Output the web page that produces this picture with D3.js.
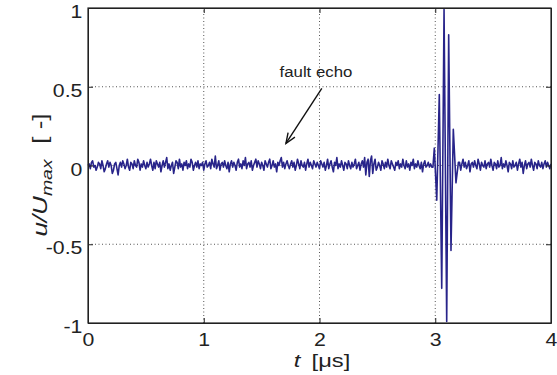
<!DOCTYPE html>
<html>
<head>
<meta charset="utf-8">
<script src="https://d3js.org/d3.v7.min.js"></script>
<style>
  body { margin: 0; background: #fff; }
  svg text { font-family: "Liberation Sans", Arial, sans-serif; fill: #222; }
</style>
</head>
<body>
<div id="chart"></div>
<script>
// Chart size
const width = 557;
const height = 375;
const margin = { top: 8, right: 6, bottom: 52, left: 88 };

// Axis ticks
const xTicks = [0, 1, 2, 3, 4];
const yTicks = [-1, -0.5, 0, 0.5, 1];
const xGrid = [1, 2, 3];
const yGrid = [-0.5, 0, 0.5];

// Background noise before the echo, sampled every 0.01 us from t = 0 (values x0.01)
const noiseStep = 0.01;
const noiseBefore = [
    0, 1, -2, 2, 3, -1, 0, -3, -1, 2, 1, -2, 3, 0, -4, -2, 1, 3, -1, 2, 0, -5, -3, 1, 2,
    -2, -6, 0, 2, -1, 3, 1, -2, 0, 4, -1, -3, 2, 1, -2, 3, 0, -1, 4, 2, -3, 1, -1, 3, 0,
    -2, 2, -1, 1, 4, 0, -3, 2, -2, 3, 1, -1, 2, -4, 0, 3, -1, 2, 5, -2, 1, -3, 0, 2, -5,
    -1, 3, 2, -2, 4, -1, 1, -3, 2, 0, 3, -2, 1, -1, 4, 2, -3, 0, 2, -1, 3, -2, 1, 0, 2,
    -3, 1, 3, -1, 0, 2, -2, 4, 1, -1, 6, -2, 0, 3, -3, 1, 2, -1, 3, 0, -2, 2, -4, 1, 3,
    -1, 2, 0, -3, 2, 4, -1, 1, -2, 3, 0, 5, -2, 1, 2, -1, 3, -3, 0, 2, 4, -1, 3, 1, -2,
    2, 0, -3, 3, 1, -1, 2, 4, -2, 0, 3, -1, 1, -4, 2, 0, 3, 5, -1, 2, -2, 1, 3, 0, -2,
    1, 3, -1, 2, -3, 0, 4, 1, -2, 3, 0, -1, 2, -3, 1, 4, -1, 2, 0, -2, 3, 1, -1, 2, 0,
    -2, 3, 1, -1, 2, -3, 0, 4, -2, 1, 3, -1, -4, 2, 0, 5, -2, 1, -1, 3, 0, -3, 2, 1, -2,
    3, 0, -2, 2, -1, 1, 4, -2, 0, 2, -3, 1, 3, -1, 5, -6, 2, 4, -7, 3, 6, -5, 1, 4, -3,
    -1, 2, 0, -3, 3, 1, -2, 2, -1, 4, 0, -2, 3, 1, -1, -3, 2, 0, 3, -2, 1, -1, 4, 0, -2,
    3, -1, 1, -3, 2, 0, 4, -2, 1, -1, 3, 0, -2, 2, -4, 1, 3, -1, 0, 2, -1, 1, -1
];

// Echo burst samples [t in us, u/Umax]
const burst = [
    [2.980, -0.01], [2.992, 0.11], [3.013, -0.22], [3.035, 0.45], [3.056, -0.78],
    [3.076, 0.99], [3.099, -0.99], [3.116, 0.83], [3.136, -0.54], [3.156, 0.23],
    [3.179, -0.11], [3.200, 0.02]
];

// Background noise after the echo, every 0.01 us from t = 3.21 (values x0.01)
const noiseAfterStart = 3.21;
const noiseAfter = [
    2, -3, 1, 4, -1, 2, -2, 0, 3, -4, 1, 2, -1, 3, 0, -2, 4, 1, -3, 2, 0, -1, 3, -2, 1,
    2, -1, 4, 0, -3, 2, 1, -2, 3, -1, 0, 5, -2, 1, -1, 3, 0, -4, 2, 1, -2, 3, -1, 0, 2,
    -3, 1, 4, -1, 2, -5, 0, 3, -2, 1, 2, -1, 4, 0, -3, 2, 1, -2, 3, 0, -1, 2, -2, 1, 3,
    -1, 2, 0, -2, 1
];

// Annotation
const noteText = "fault echo";
const noteTextPos = [1.655, 0.56];
const arrowFrom = [2.02, 0.49];
const arrowTo = [1.71, 0.14];

// Build the series
const series = [];
noiseBefore.forEach((v, i) => series.push([i * noiseStep, v / 100]));
burst.forEach(d => series.push(d));
noiseAfter.forEach((v, i) => series.push([noiseAfterStart + i * noiseStep, v / 100]));

const svg = d3.select("#chart").append("svg")
    .attr("width", width)
    .attr("height", height);

const x = d3.scaleLinear().domain([0, 4]).range([margin.left, width - margin.right]);
const y = d3.scaleLinear().domain([-1, 1]).range([height - margin.bottom, margin.top]);

// Grid lines
svg.append("g").selectAll("line")
    .data(xGrid)
    .enter().append("line")
    .attr("x1", d => x(d)).attr("x2", d => x(d))
    .attr("y1", y(-1)).attr("y2", y(1))
    .style("stroke", "#555")
    .style("stroke-width", 1)
    .style("stroke-dasharray", "1,2.5");

svg.append("g").selectAll("line")
    .data(yGrid)
    .enter().append("line")
    .attr("x1", x(0)).attr("x2", x(4))
    .attr("y1", d => y(d)).attr("y2", d => y(d))
    .style("stroke", "#555")
    .style("stroke-width", 1)
    .style("stroke-dasharray", "1,2.5");

// Signal
const line = d3.line().x(d => x(d[0])).y(d => y(d[1]));
svg.append("path")
    .datum(series)
    .attr("d", line)
    .style("fill", "none")
    .style("stroke", "#28248a")
    .style("stroke-width", 1.6)
    .style("stroke-linejoin", "round");

// Axes (ticks inward, MATLAB style)
const xAxis = svg.append("g")
    .attr("transform", `translate(0,${y(-1)})`)
    .call(d3.axisBottom(x).tickValues(xTicks).tickFormat(d3.format("d")).tickSizeInner(-5).tickSizeOuter(0).tickPadding(10));
const yAxis = svg.append("g")
    .attr("transform", `translate(${x(0)},0)`)
    .call(d3.axisLeft(y).tickValues(yTicks).tickFormat(d => d).tickSizeInner(-5).tickSizeOuter(0).tickPadding(5));
svg.append("g")
    .attr("transform", `translate(0,${y(1)})`)
    .call(d3.axisTop(x).tickValues(xTicks).tickSizeInner(-5).tickSizeOuter(0).tickFormat(""));
svg.append("g")
    .attr("transform", `translate(${x(4)},0)`)
    .call(d3.axisRight(y).tickValues(yTicks).tickSizeInner(-5).tickSizeOuter(0).tickFormat(""));

svg.selectAll(".domain, .tick line").style("stroke", "#222").style("stroke-width", 1);
xAxis.selectAll("text")
    .style("font-size", "19px")
    .attr("transform", "scale(1.12,1)");
yAxis.selectAll("text")
    .style("font-size", "19px")
    .attr("dy", "0.5em")
    .attr("transform", "scale(1.12,1)");

// Frame
svg.append("rect")
    .attr("x", x(0)).attr("y", y(1))
    .attr("width", x(4) - x(0)).attr("height", y(-1) - y(1))
    .style("fill", "none")
    .style("stroke", "#222")
    .style("stroke-width", 1.2);

// x label
const xl = svg.append("text")
    .attr("transform", "translate(322,367) scale(1.25,1)")
    .attr("text-anchor", "middle")
    .style("font-size", "19px");
xl.append("tspan").style("font-style", "italic").text("t");
xl.append("tspan").attr("dx", 9).text("[μs]");

// y label
const yl = svg.append("text")
    .attr("transform", "translate(47,175) rotate(-90) scale(1.3,1)")
    .attr("text-anchor", "middle")
    .style("font-size", "20px");
yl.append("tspan").style("font-style", "italic").text("u/U");
yl.append("tspan").style("font-style", "italic").style("font-size", "15px").attr("dy", 5).text("max");
yl.append("tspan").attr("dy", -5).attr("dx", 12).text("[ -]");

// Annotation
svg.append("text")
    .attr("transform", `translate(${x(noteTextPos[0])},${y(noteTextPos[1])}) scale(1.12,1)`)
    .style("font-size", "15px")
    .text(noteText);

const ax1 = x(arrowFrom[0]), ay1 = y(arrowFrom[1]);
const ax2 = x(arrowTo[0]), ay2 = y(arrowTo[1]);
svg.append("line")
    .attr("x1", ax1).attr("y1", ay1).attr("x2", ax2).attr("y2", ay2)
    .style("stroke", "#111").style("stroke-width", 1.4);
const ang = Math.atan2(ay1 - ay2, ax1 - ax2);
const headLen = 11, spread = 0.38;
svg.append("path")
    .attr("d", `M${ax2 + headLen * Math.cos(ang - spread)},${ay2 + headLen * Math.sin(ang - spread)}L${ax2},${ay2}L${ax2 + headLen * Math.cos(ang + spread)},${ay2 + headLen * Math.sin(ang + spread)}`)
    .style("fill", "none")
    .style("stroke", "#111").style("stroke-width", 1.4);
</script>
</body>
</html>
